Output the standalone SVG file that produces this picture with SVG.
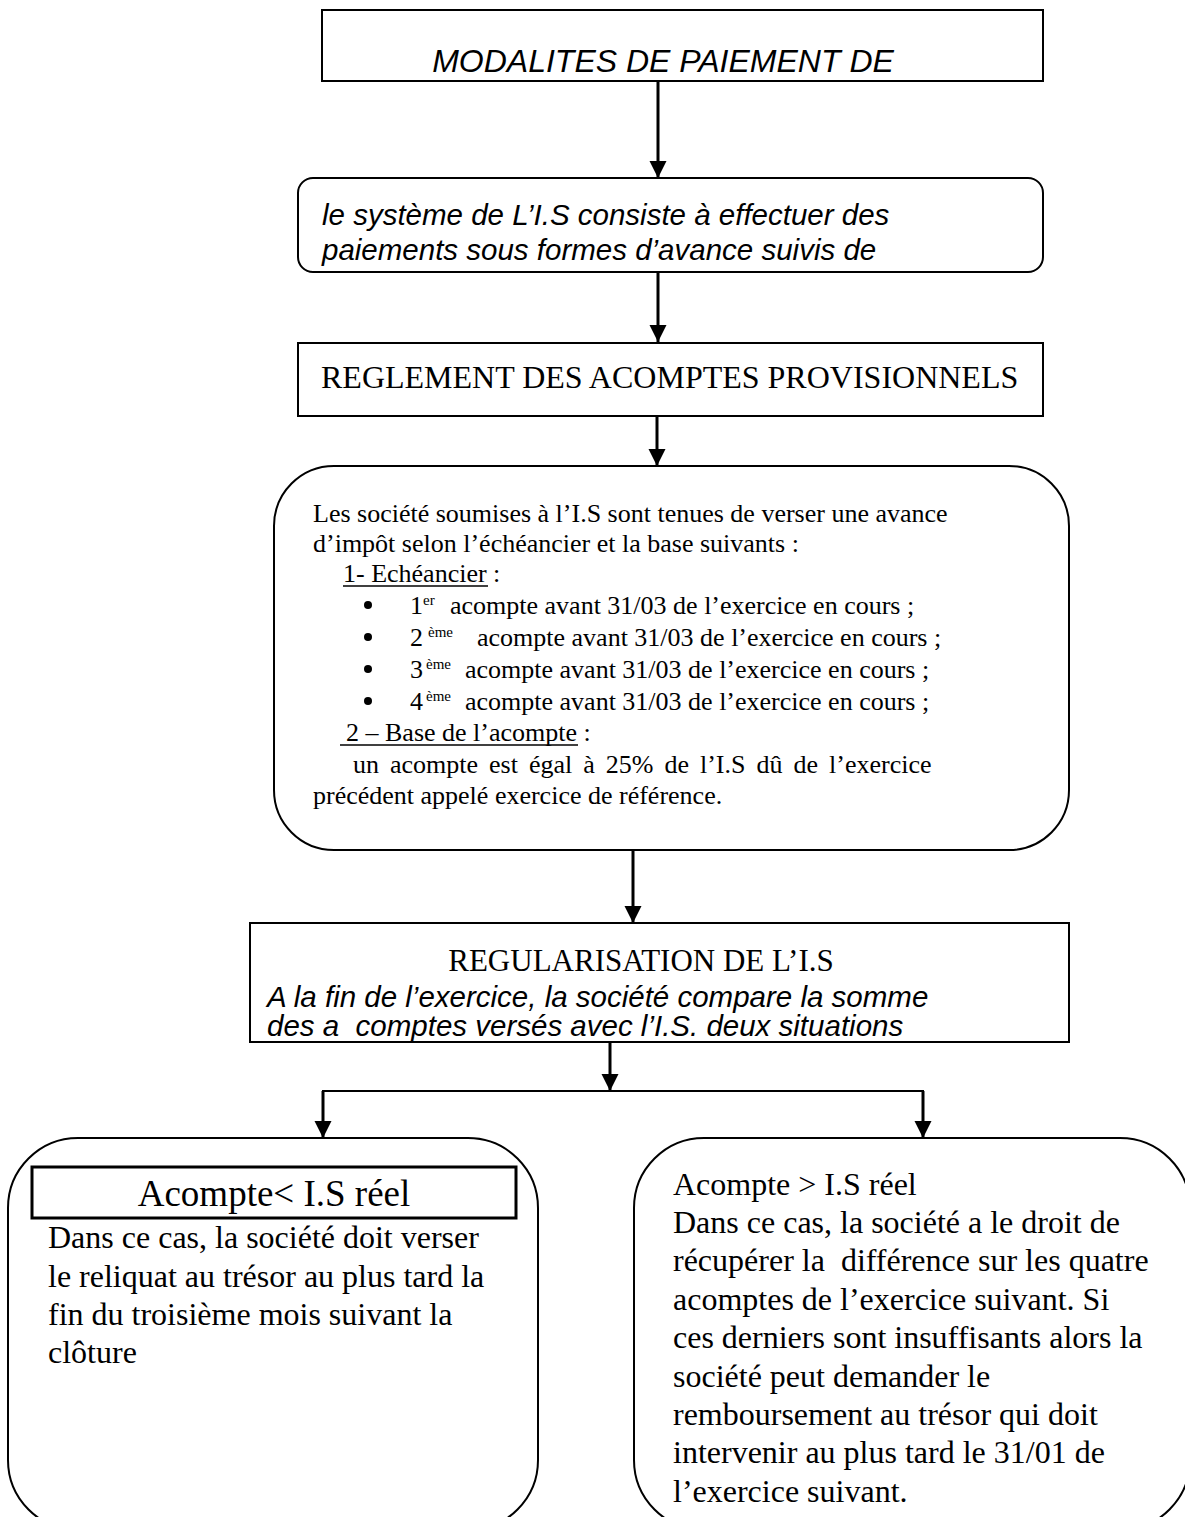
<svg xmlns="http://www.w3.org/2000/svg" width="1185" height="1517" viewBox="0 0 1185 1517">
<style>
.box{fill:#fff;stroke:#000;stroke-width:2}
.conn{fill:none;stroke:#000;stroke-width:3}
.si{font-family:"Liberation Sans",Arial,sans-serif;font-style:italic;fill:#000}
.sr{font-family:"Liberation Serif","Times New Roman",serif;fill:#000}
.sup{font-size:15px}
</style>
<defs>
<marker id="ah" viewBox="0 0 10 10" refX="10" refY="5" markerWidth="5.7" markerHeight="6" markerUnits="strokeWidth" orient="auto">
<path d="M0,0 L10,5 L0,10 z" fill="#000"/>
</marker>
</defs>
<rect width="1185" height="1517" fill="#fff"/>

<g id="connectors">
<line class="conn" x1="658" y1="81" x2="658" y2="178" marker-end="url(#ah)"/>
<line class="conn" x1="658" y1="272" x2="658" y2="342" marker-end="url(#ah)"/>
<line class="conn" x1="657" y1="415" x2="657" y2="466" marker-end="url(#ah)"/>
<line class="conn" x1="633" y1="850" x2="633" y2="923" marker-end="url(#ah)"/>
<line class="conn" x1="610" y1="1042" x2="610" y2="1091" marker-end="url(#ah)"/>
<line stroke="#000" stroke-width="2" x1="322" y1="1091" x2="924" y2="1091"/>
<line class="conn" x1="323" y1="1091" x2="323" y2="1138" marker-end="url(#ah)"/>
<line class="conn" x1="923" y1="1091" x2="923" y2="1138" marker-end="url(#ah)"/>
</g>

<g id="n1">
<rect class="box" x="322" y="10" width="721" height="71"/>
<text class="si" x="663" y="72" font-size="32" text-anchor="middle">MODALITES DE PAIEMENT DE</text>
</g>

<g id="n2">
<rect class="box" x="298" y="178" width="745" height="94" rx="15"/>
<text class="si" font-size="29.5"><tspan x="322" y="225">le système de L’I.S consiste à effectuer des</tspan><tspan x="322" y="260">paiements sous formes d’avance suivis de</tspan></text>
</g>

<g id="n3">
<rect class="box" x="298" y="343" width="745" height="73"/>
<text class="sr" x="321" y="388" font-size="32">REGLEMENT DES ACOMPTES PROVISIONNELS</text>
</g>

<g id="n4">
<rect class="box" x="274" y="466" width="795" height="384" rx="60"/>
<g class="sr" font-size="26">
<text x="313" y="522">Les société soumises à l’I.S sont tenues de verser une avance</text>
<text x="313" y="552">d’impôt selon l’échéancier et la base suivants :</text>
<text x="343" y="582">1- Echéancier :</text>
<line x1="343" y1="586" x2="488" y2="586" stroke="#000" stroke-width="1.5"/>
<circle cx="368" cy="605" r="4"/>
<circle cx="368" cy="637" r="4"/>
<circle cx="368" cy="669" r="4"/>
<circle cx="368" cy="701" r="4"/>
<text x="410" y="614">1</text><text class="sup" x="423" y="605">er</text>
<text x="450" y="614">acompte avant 31/03 de l’exercice en cours ;</text>
<text x="410" y="646">2</text><text class="sup" x="428" y="637">ème</text>
<text x="477" y="646">acompte avant 31/03 de l’exercice en cours ;</text>
<text x="410" y="678">3</text><text class="sup" x="426" y="669">ème</text>
<text x="465" y="678">acompte avant 31/03 de l’exercice en cours ;</text>
<text x="410" y="710">4</text><text class="sup" x="426" y="701">ème</text>
<text x="465" y="710">acompte avant 31/03 de l’exercice en cours ;</text>
<text x="346" y="741">2 – Base de l’acompte :</text>
<line x1="340" y1="745" x2="578" y2="745" stroke="#000" stroke-width="1.5"/>
<text x="353" y="773" word-spacing="4.5">un acompte est égal à 25% de l’I.S dû de l’exercice</text>
<text x="313" y="804">précédent appelé exercice de référence.</text>
</g>
</g>

<g id="n5">
<rect class="box" x="250" y="923" width="819" height="119"/>
<text class="sr" x="641" y="971" font-size="31" text-anchor="middle">REGULARISATION DE L’I.S</text>
<text class="si" font-size="29.5"><tspan x="267" y="1007">A la fin de l’exercice, la société compare la somme</tspan><tspan x="267" y="1036" xml:space="preserve">des a  comptes versés avec l’I.S. deux situations</tspan></text>
</g>

<g id="n6">
<rect class="box" x="8" y="1138" width="530" height="392" rx="70"/>
<rect x="32" y="1167" width="484" height="51" fill="#fff" stroke="#000" stroke-width="3"/>
<text class="sr" x="274" y="1206" font-size="37" text-anchor="middle">Acompte&lt; I.S réel</text>
<text class="sr" font-size="32"><tspan x="48" y="1248">Dans ce cas, la société doit verser</tspan><tspan x="48" y="1287">le reliquat au trésor au plus tard la</tspan><tspan x="48" y="1325">fin du troisième mois suivant la</tspan><tspan x="48" y="1363">clôture</tspan></text>
</g>

<g id="n7">
<rect class="box" x="634" y="1138" width="556" height="392" rx="70"/>
<text class="sr" font-size="32"><tspan x="673" y="1195">Acompte &gt; I.S réel</tspan><tspan x="673" y="1233">Dans ce cas, la société a le droit de</tspan><tspan x="673" y="1271" xml:space="preserve">récupérer la  différence sur les quatre</tspan><tspan x="673" y="1310">acomptes de l’exercice suivant. Si</tspan><tspan x="673" y="1348">ces derniers sont insuffisants alors la</tspan><tspan x="673" y="1387">société peut demander le</tspan><tspan x="673" y="1425">remboursement au trésor qui doit</tspan><tspan x="673" y="1463">intervenir au plus tard le 31/01 de</tspan><tspan x="673" y="1502">l’exercice suivant.</tspan></text>
</g>
</svg>
